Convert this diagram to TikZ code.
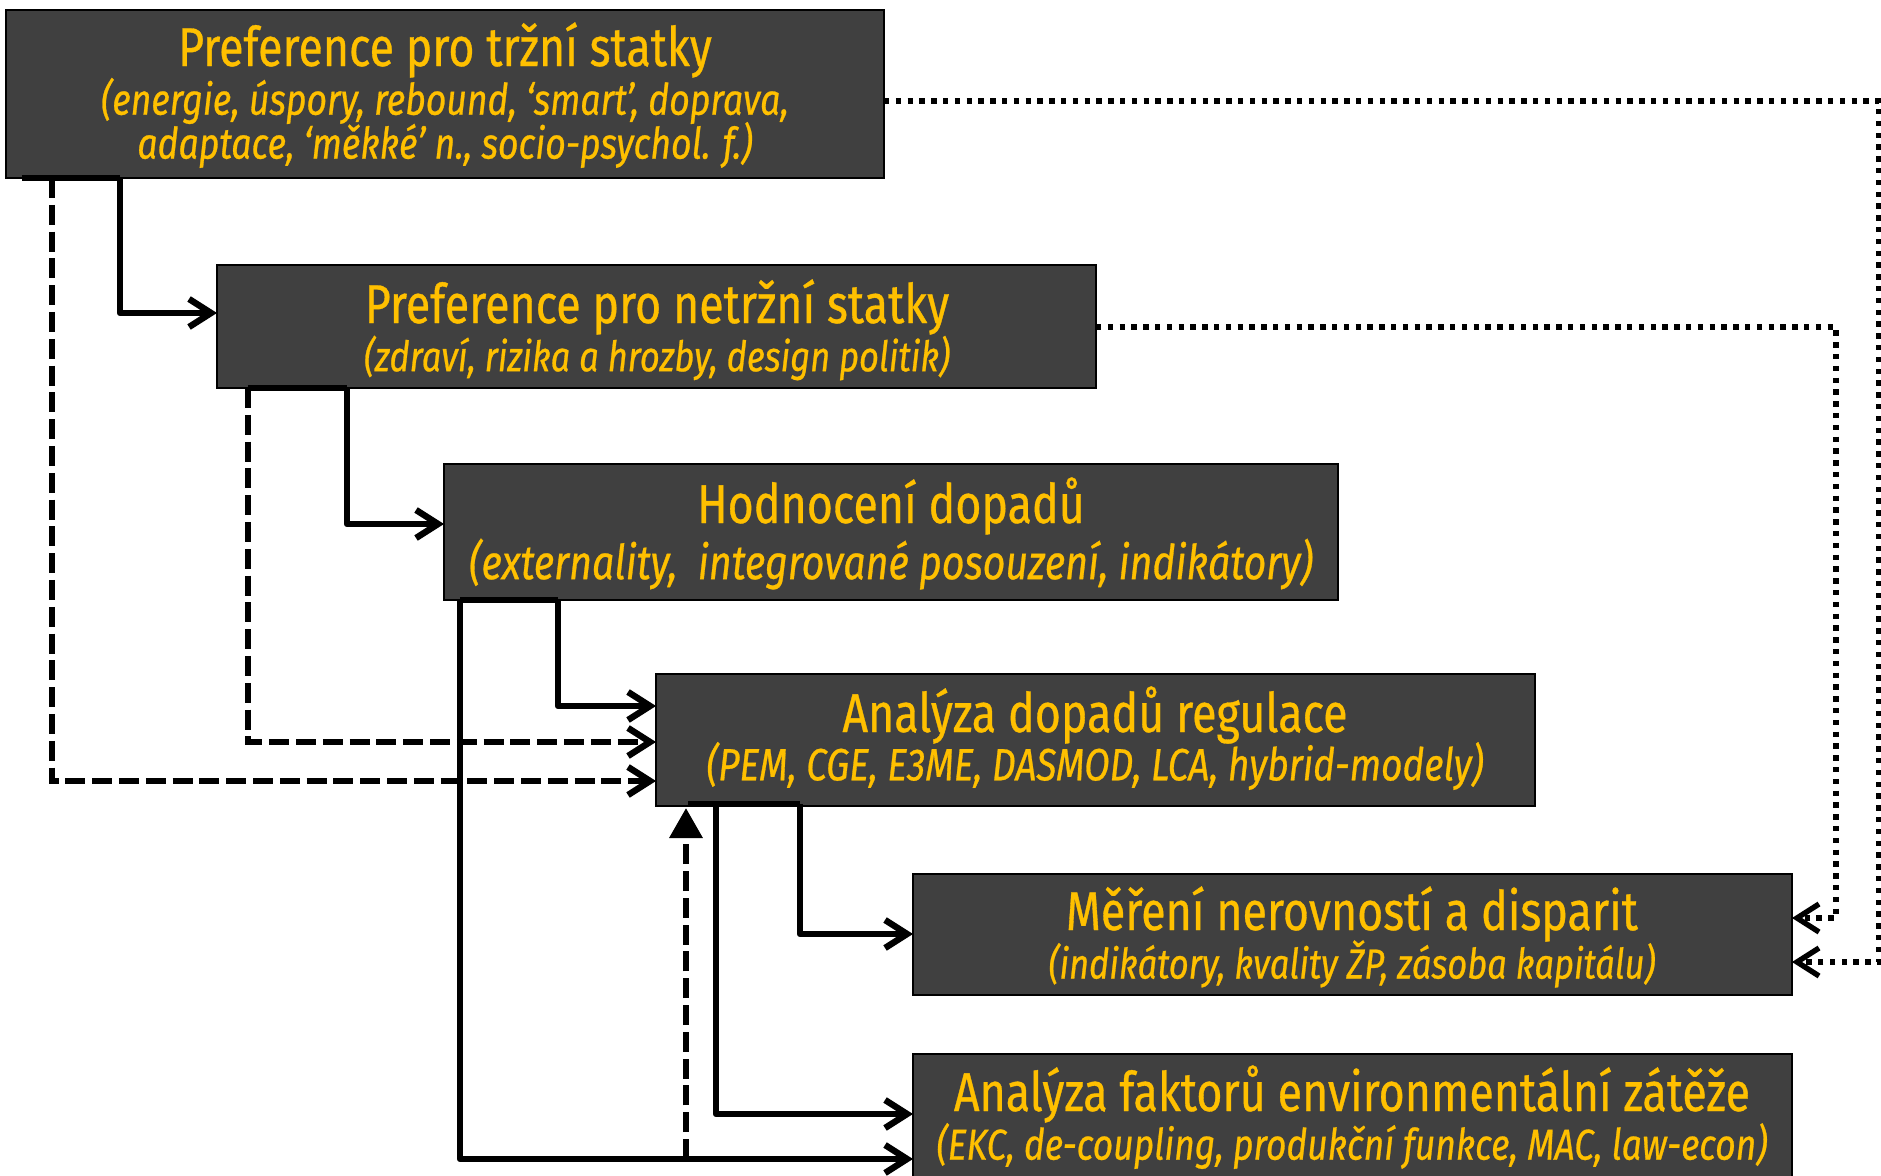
\documentclass[tikz,border=0pt]{standalone}
\usepackage{fontspec}
\setmainfont[FakeStretch=0.82,FakeBold=0.6]{Fira Sans}
\usetikzlibrary{arrows.meta}
\definecolor{boxfill}{HTML}{404040}
\definecolor{txt}{HTML}{FFC000}
\tikzset{
  box/.style={draw=black, line width=0.8pt, fill=boxfill, inner sep=0pt},
  ttl/.style={text=txt, inner sep=0pt, font=\fontsize{27.3}{32}\selectfont},
  sub/.style={text=txt, inner sep=0pt, font=\fontsize{#1}{24}\selectfont\itshape},
  solidline/.style={line width=3.2pt, line join=round},
  dashline/.style={line width=3.2pt, dash pattern=on 10pt off 3.4pt},
  dotline/.style={line width=2.7pt, dash pattern=on 2.7pt off 3.2pt},
  barb/.style={-{Straight Barb[length=11pt,width=14pt]}},
  tri/.style={-{Triangle[length=15pt,width=16pt]}}
}
\begin{document}
\begin{tikzpicture}[x=0.5pt,y=-0.5pt]
\useasboundingbox (0,0) rectangle (1881,1176);
\begin{scope}
\clip (0,0) rectangle (1881,1176);
% boxes
\node[box, minimum width=439pt, minimum height=84pt] (b1) at (445,94) {};
\node[box, minimum width=439.5pt, minimum height=61.5pt] (b2) at (656.5,326.5) {};
\node[box, minimum width=447pt, minimum height=68pt] (b3) at (891,532) {};
\node[box, minimum width=439.5pt, minimum height=66pt] (b4) at (1095.5,740) {};
\node[box, minimum width=439.5pt, minimum height=60.5pt] (b5) at (1352.5,934.5) {};
\node[box, minimum width=439.5pt, minimum height=68pt] (b6) at (1352.5,1122) {};
\end{scope}
% texts
\node[ttl] (t1) at (445,50) {Preference pro tržní statky};
\node[sub=21.7] (s1a) at (445,101) {(energie, úspory, rebound, ‘smart’, doprava,};
\node[sub=21.7] (s1b) at (445,145) {adaptace, ‘měkké’ n., socio-psychol. f.)};
\node[ttl] (t2) at (657,307) {Preference pro netržní statky};
\node[sub=21] (s2) at (657,358) {(zdraví, rizika a hrozby, design politik)};
\node[ttl] (t3) at (891,506) {Hodnocení dopadů};
\node[sub=24] (s3) at (891,564) {(externality,\ \ integrované posouzení, indikátory)};
\node[ttl] (t4) at (1095,715) {Analýza dopadů regulace};
\node[sub=22.6] (s4) at (1095,766) {(PEM, CGE, E3ME, DASMOD, LCA, hybrid-modely)};
\node[ttl] (t5) at (1352,914) {Měření nerovností a disparit};
\node[sub=21] (s5) at (1352,964) {(indikátory, kvality ŽP, zásoba kapitálu)};
\node[ttl] (t6) at (1352,1094) {Analýza faktorů environmentální zátěže};
\node[sub=21.6] (s6) at (1352,1146) {(EKC, de-coupling, produkční funkce, MAC, law-econ)};
% coordinates
\coordinate (p1a) at (22,178);  \coordinate (p1b) at (120,178); \coordinate (p1d) at (52,178);
\coordinate (a2) at (217,313);
\coordinate (p2a) at (248,388); \coordinate (p2b) at (347,388);
\coordinate (a3) at (444,524);
\coordinate (p3a) at (460,600); \coordinate (p3b) at (558,600);
\coordinate (a4s) at (656,706); \coordinate (a4d2) at (656,742); \coordinate (a4d1) at (656,781);
\coordinate (p4a) at (688,804); \coordinate (p4b) at (800,804); \coordinate (p4c) at (716,804);
\coordinate (a5) at (913,934);
\coordinate (a6a) at (913,1114); \coordinate (a6b) at (913,1159);
\coordinate (u0) at (686,1159); \coordinate (u1) at (686,808);
\coordinate (r1) at (884,101); \coordinate (r2) at (1096,327);
\coordinate (k1) at (1879,101); \coordinate (k2) at (1836,327);
\coordinate (e1) at (1792,962); \coordinate (e2) at (1792,918);
% connectors
\draw[solidline] (p1a) -- (p1b);
\draw[solidline,barb] (p1b) |- (a2);
\draw[dashline,barb] (p1d) |- (a4d1);
\draw[solidline] (p2a) -- (p2b);
\draw[solidline,barb] (p2b) |- (a3);
\draw[dashline,barb] (p2a) |- (a4d2);
\draw[solidline] (p3a) -- (p3b);
\draw[solidline,barb] (p3b) |- (a4s);
\draw[solidline,barb] (p3a) |- (a6b);
\draw[solidline] (p4a) -- (p4b);
\draw[solidline,barb] (p4b) |- (a5);
\draw[solidline,barb] (p4c) |- (a6a);
\draw[dashline,tri] (u0) -- (u1);
\draw[dotline,barb] (r1) -- (k1) |- (e1);
\draw[dotline,barb] (r2) -- (k2) |- (e2);
\end{tikzpicture}
\end{document}
